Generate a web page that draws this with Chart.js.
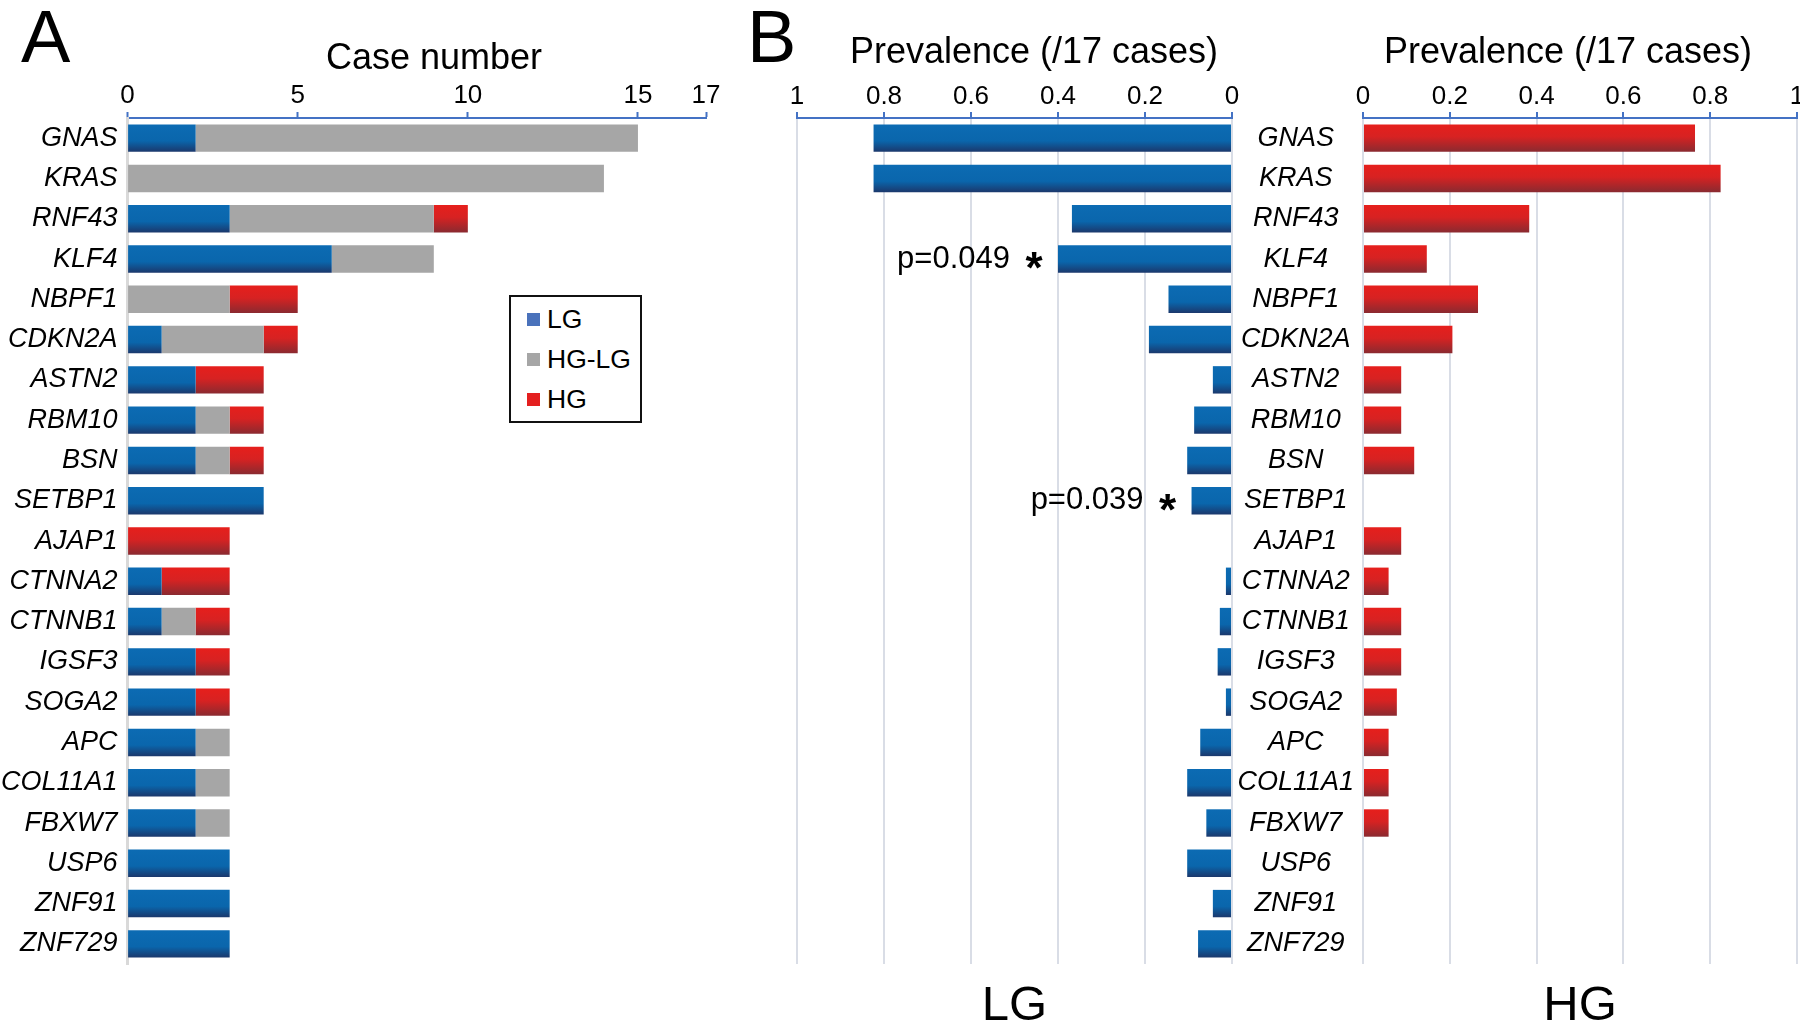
<!DOCTYPE html>
<html>
<head>
<meta charset="utf-8">
<title>Mutated genes, LG vs HG</title>
<script src="https://cdn.jsdelivr.net/npm/chart.js@4.4.1/dist/chart.umd.min.js"></script>
<style>
  body { margin: 0; background: #fff; }
  #wrap { position: relative; width: 1800px; height: 1031px; overflow: hidden;
          font-family: "Liberation Sans", Arial, Helvetica, sans-serif; color: #000; }
  #wrap canvas { position: absolute; left: 0; top: 0; }
  .letter { position: absolute; font-size: 74px; line-height: 74px; }
  .title { position: absolute; font-size: 36px; line-height: 36px; white-space: nowrap;
           transform: translateX(-50%); }
  #legend { position: absolute; left: 509px; top: 295px; width: 133px; height: 128px;
            box-sizing: border-box; border: 2px solid #111; padding-top: 2px; background: #fff; }
  #legend div { height: 40px; display: flex; align-items: center; font-size: 26.5px; }
  #legend span { width: 13px; height: 13px; margin: 0 7px 0 16px; }
</style>
</head>
<body>
<div id="wrap">
  <canvas id="caseChart" width="1820" height="1031"></canvas>
  <canvas id="lgChart" width="1820" height="1031"></canvas>
  <canvas id="hgChart" width="1820" height="1031"></canvas>
  <div class="letter" style="left:21px; top:0px;">A</div>
  <div class="letter" style="left:747px; top:0px;">B</div>
  <div class="title" style="left:434px; top:39px;">Case number</div>
  <div class="title" style="left:1034px; top:33px;">Prevalence (/17 cases)</div>
  <div class="title" style="left:1568px; top:33px;">Prevalence (/17 cases)</div>
  <div id="legend"></div>
</div>
<script>
const GENES = ["GNAS", "KRAS", "RNF43", "KLF4", "NBPF1", "CDKN2A", "ASTN2", "RBM10", "BSN",
  "SETBP1", "AJAP1", "CTNNA2", "CTNNB1", "IGSF3", "SOGA2", "APC", "COL11A1", "FBXW7",
  "USP6", "ZNF91", "ZNF729"];

// panel A: case numbers, stacked
const SERIES = ["LG", "HG-LG", "HG"];
const CASE_LG   = [2, 0, 3, 6, 0, 1, 2, 2, 2, 4, 0, 1, 1, 2, 2, 2, 2, 2, 3, 3, 3];
const CASE_HGLG = [13, 14, 6, 3, 3, 3, 0, 1, 1, 0, 0, 0, 1, 0, 0, 1, 1, 1, 0, 0, 0];
const CASE_HG   = [0, 0, 1, 0, 2, 1, 2, 1, 1, 0, 3, 2, 1, 1, 1, 0, 0, 0, 0, 0, 0];
const CASE_TICKS = [0, 5, 10, 15, 17];

// panel B: prevalence
const PREV_LG = [0.824, 0.824, 0.368, 0.40, 0.146, 0.191, 0.044, 0.087, 0.103, 0.093, 0,
  0.014, 0.028, 0.033, 0.014, 0.073, 0.103, 0.059, 0.103, 0.044, 0.078];
const PREV_HG = [0.765, 0.824, 0.383, 0.147, 0.265, 0.206, 0.088, 0.088, 0.118, 0, 0.088,
  0.059, 0.088, 0.088, 0.078, 0.059, 0.059, 0.059, 0, 0, 0];
const P_GENES = ["KLF4", "SETBP1"];
const P_TEXT = ["p=0.049", "p=0.039"];

const FONT = '"Liberation Sans", Arial, Helvetica, sans-serif';
const W = 1820, H = 1031;
const AREA_TOP = 118, AREA_BOTTOM = 964;
const BAR_PCT = 0.68;
const AXIS_BLUE = "#4472c4";
const GRID = "#d9dde6";
const GRAY = "#a6a6a6";
const KEY_COLORS = ["#4a72bb", GRAY, "#e41f1f"];

Chart.defaults.font.family = FONT;
Chart.defaults.color = "#000";

// vertical gradient per bar, like the excel fill
const gradientFill = (stops) => (ctx) => {
  const ys = ctx.chart.scales.y;
  if (ctx.type !== "data" || !ys) return stops[0][1];
  const c = ys.getPixelForValue(ctx.dataIndex);
  const half = (ys.height / GENES.length) * BAR_PCT / 2;
  if (!isFinite(c) || !isFinite(half) || half <= 0) return stops[0][1];
  const g = ctx.chart.ctx.createLinearGradient(0, c - half, 0, c + half);
  stops.forEach(([p, col]) => g.addColorStop(p, col));
  return g;
};
const blueFill = gradientFill([[0, "#0c6bb3"], [0.6, "#0a66ac"], [1, "#1b386c"]]);
const redFill = gradientFill([[0, "#e61f1c"], [0.45, "#d72222"], [1, "#8a2a30"]]);

const common = {
  indexAxis: "y",
  responsive: false,
  animation: false,
  events: [],
  datasets: { bar: { barPercentage: BAR_PCT, categoryPercentage: 1, borderWidth: 0 } },
  plugins: { legend: { display: false }, tooltip: { enabled: false } },
};

const tickFont = { size: 26 };

const topAxis = (extra) => Object.assign({
  position: "top",
  afterFit: (s) => { s.height = AREA_TOP; },
  border: { color: AXIS_BLUE, width: 2 },
}, extra);

const labelAxis = (text) => ({
  type: "linear", position: "bottom", min: 0, max: 1,
  afterFit: (s) => { s.height = H - AREA_BOTTOM; },
  grid: { display: false, drawTicks: false },
  border: { display: false },
  ticks: { display: false },
  title: { display: true, text: text, color: "#000", font: { size: 49, lineHeight: 1 },
           padding: { top: 0, bottom: 0 } },
});

const geneTicks = { font: { size: 27, style: "italic" }, color: "#000", autoSkip: false };

// A
new Chart(document.getElementById("caseChart"), {
  type: "bar",
  data: {
    labels: GENES,
    datasets: [
      { label: SERIES[0], data: CASE_LG, backgroundColor: blueFill },
      { label: SERIES[1], data: CASE_HGLG, backgroundColor: GRAY },
      { label: SERIES[2], data: CASE_HG, backgroundColor: redFill },
    ],
  },
  options: Object.assign({}, common, {
    layout: { padding: { left: 0, top: 0, right: W - 706, bottom: H - AREA_BOTTOM } },
    scales: {
      x: topAxis({
        stacked: true, min: 0, max: 17,
        afterBuildTicks: (s) => { s.ticks = CASE_TICKS.map((v) => ({ value: v })); },
        grid: { drawOnChartArea: false, tickColor: AXIS_BLUE, tickLength: 6, tickWidth: 2 },
        ticks: { font: tickFont, color: "#000", padding: 1, maxRotation: 0, autoSkip: false },
      }),
      y: {
        stacked: true,
        afterFit: (s) => { s.width = 127.6; },
        grid: { drawOnChartArea: false, drawTicks: false },
        border: { color: "#d9d9d9", width: 3 },
        ticks: Object.assign({ padding: 10 }, geneTicks),
      },
    },
  }),
});

// p values next to the LG bars
const pNotes = {
  id: "pNotes",
  afterDatasetsDraw(chart) {
    const { ctx, scales: { x, y } } = chart;
    ctx.save();
    ctx.fillStyle = "#000";
    P_GENES.forEach((gene, k) => {
      const i = GENES.indexOf(gene);
      const end = x.getPixelForValue(PREV_LG[i]);
      const yc = y.getPixelForValue(i);
      ctx.font = "31px " + FONT;
      ctx.textAlign = "right";
      ctx.textBaseline = "middle";
      ctx.fillText(P_TEXT[k], end - 48, yc);
      ctx.font = "bold 44px " + FONT;
      ctx.textAlign = "center";
      ctx.textBaseline = "alphabetic";
      ctx.fillText("*", end - 24, yc + 24);
    });
    ctx.restore();
  },
};

const prevGrid = { color: GRID, lineWidth: 2, tickColor: AXIS_BLUE, tickLength: 6, tickWidth: 2 };
const prevTicks = {
  stepSize: 0.2, font: tickFont, color: "#000", padding: 0, maxRotation: 0, autoSkip: false,
  callback: (v) => String(Math.round(v * 10) / 10),
};

// B, LG side (reversed)
new Chart(document.getElementById("lgChart"), {
  type: "bar",
  data: { labels: GENES, datasets: [{ label: "LG", data: PREV_LG, backgroundColor: blueFill }] },
  options: Object.assign({}, common, {
    layout: { padding: { left: 797, top: 0, right: W - 1232, bottom: 0 } },
    scales: {
      x: topAxis({ min: 0, max: 1, reverse: true, grid: prevGrid, ticks: prevTicks }),
      x2: labelAxis("LG"),
      y: { display: false },
    },
  }),
  plugins: [pNotes],
});

// B, HG side with the gene names
new Chart(document.getElementById("hgChart"), {
  type: "bar",
  data: { labels: GENES, datasets: [{ label: "HG", data: PREV_HG, backgroundColor: redFill }] },
  options: Object.assign({}, common, {
    layout: { padding: { left: 1232, top: 0, right: W - 1797, bottom: 0 } },
    scales: {
      x: topAxis({ min: 0, max: 1, grid: prevGrid, ticks: prevTicks }),
      x2: labelAxis("HG"),
      y: {
        afterFit: (s) => { s.width = 131; },
        grid: { display: false, drawTicks: false },
        border: { display: false },
        ticks: Object.assign({ padding: 9, crossAlign: "center" }, geneTicks),
      },
    },
  }),
});

// legend box for A
const legend = document.getElementById("legend");
SERIES.forEach((name, i) => {
  const row = document.createElement("div");
  const key = document.createElement("span");
  key.style.background = KEY_COLORS[i];
  row.appendChild(key);
  row.appendChild(document.createTextNode(name));
  legend.appendChild(row);
});
</script>
</body>
</html>
